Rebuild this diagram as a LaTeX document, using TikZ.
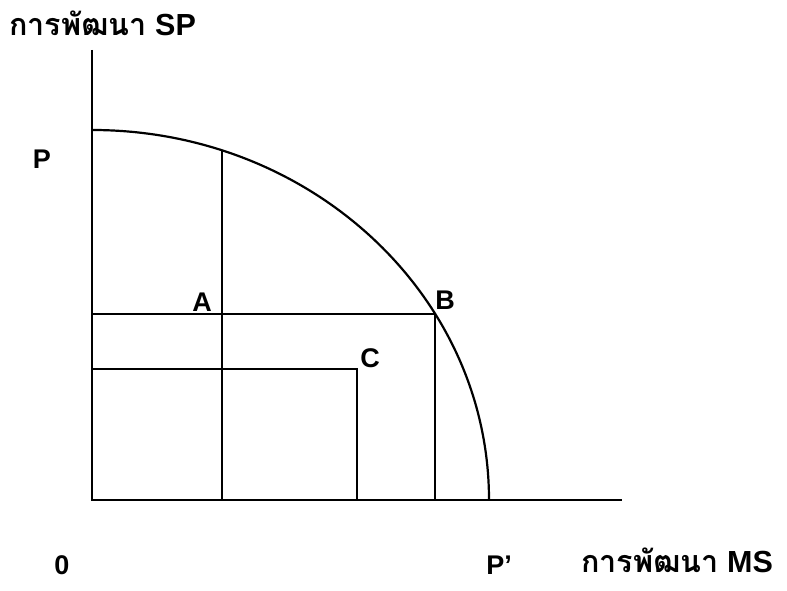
\documentclass[tikz,border=0pt]{standalone}
\usepackage{fontspec}
\setmainfont{Liberation Sans}
\newfontfamily\thaifont[Script=Thai]{Loma}
\usetikzlibrary{calc}
\begin{document}
\begin{tikzpicture}[
  x=1pt, y=1pt, line width=2.2pt, line join=miter,
  lab/.style={font=\bfseries\fontsize{27}{30}\selectfont, inner sep=0pt},
  axislab/.style={font=\bfseries\fontsize{30.5}{33}\selectfont, inner sep=0pt, anchor=base west}
]
\useasboundingbox (0,0) rectangle (787,591);
% Axes and the frontier P--P'.
\coordinate (O) at (92,91);
\coordinate (ytop) at (92,541);
\coordinate (xend) at (622,91);
\coordinate (P) at (92,461);
\coordinate (A) at ([shift={(70.88:397pt and 370pt)}]O);
\coordinate (B) at ([shift={(30.24:397pt and 370pt)}]O);
\coordinate (C) at (357,222);
\draw (ytop) -- (O) -- (xend);
\draw (P) arc[start angle=90, end angle=0, x radius=397, y radius=370];
% Guide lines through A, B and C.
\draw (A) -- (A |- O);
\draw (O |- B) -- (B) -- (B |- O);
\draw (O |- C) -- (C) -- (C |- O);
% Labels.
\node[axislab] (ylab) at (8,555) {{\thaifont การพัฒนา} SP};
\node[axislab] (xlab) at (580,18) {{\thaifont การพัฒนา} MS};
\node[lab] (Plab) at (42,432) {P};
\node[lab] (Alab) at (202,289) {A};
\node[lab] (Blab) at (445,291) {B};
\node[lab] (Clab) at (370,233) {C};
\node[lab] (zero) at (62,26) {0};
\node[lab] (Pplab) at (499,26) {P’};
\end{tikzpicture}
\end{document}
